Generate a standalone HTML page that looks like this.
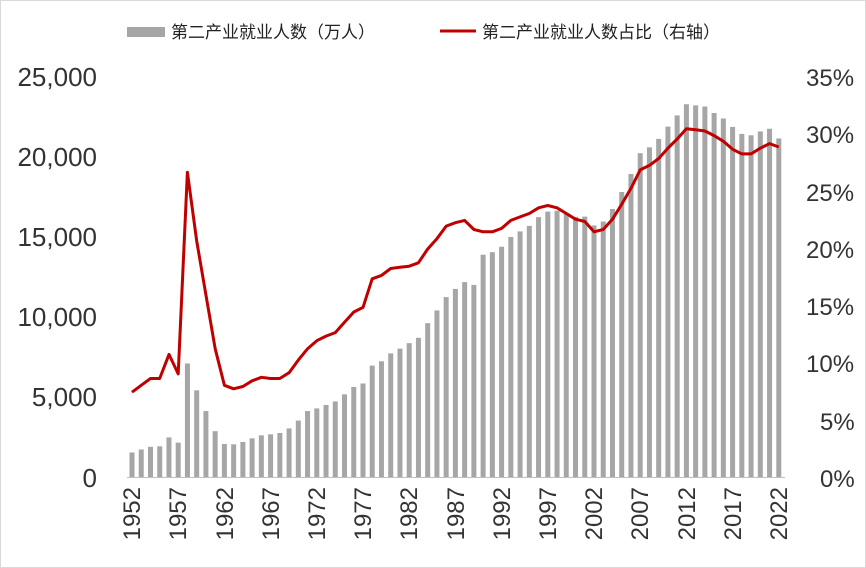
<!DOCTYPE html>
<html><head><meta charset="utf-8"><style>
html,body{margin:0;padding:0;background:#fff}
svg{display:block;font-family:"Liberation Sans","Noto Sans CJK SC",sans-serif}
</style></head><body>
<svg id="c" width="866" height="568" viewBox="0 0 866 568">
<rect x="0.5" y="0.5" width="865" height="567" fill="#fff" stroke="#d9d9d9"/>
<g id="bars" fill="#a6a6a6"></g>
<line x1="127" y1="477.5" x2="785" y2="477.5" stroke="#bfbfbf" stroke-width="1"/>
<polyline id="ln" fill="none" stroke="#c00000" stroke-width="3" stroke-linejoin="round"/>
<rect x="127" y="27" width="38" height="10" fill="#a6a6a6"/>
<text x="171" y="38" font-size="17" fill="#222">第二产业就业人数（万人）</text>
<line x1="440" y1="31" x2="476" y2="31" stroke="#c00000" stroke-width="3"/>
<text x="482" y="38" font-size="17" fill="#222">第二产业就业人数占比（右轴）</text>
<g font-size="26" fill="#333" text-anchor="end">
<text x="97" y="86">25,000</text>
<text x="97" y="166">20,000</text>
<text x="97" y="246">15,000</text>
<text x="97" y="326">10,000</text>
<text x="97" y="406">5,000</text>
<text x="97" y="487">0</text>
</g>
<g font-size="24" fill="#333">
<text x="806" y="86">35%</text>
<text x="806" y="143">30%</text>
<text x="806" y="201">25%</text>
<text x="806" y="258">20%</text>
<text x="806" y="315">15%</text>
<text x="806" y="372">10%</text>
<text x="820" y="430">5%</text>
<text x="820" y="487">0%</text>
</g>
<g font-size="24" fill="#333" text-anchor="end">
<text transform="translate(140,487) rotate(-90)">1952</text>
<text transform="translate(186,487) rotate(-90)">1957</text>
<text transform="translate(233,487) rotate(-90)">1962</text>
<text transform="translate(279,487) rotate(-90)">1967</text>
<text transform="translate(325,487) rotate(-90)">1972</text>
<text transform="translate(371,487) rotate(-90)">1977</text>
<text transform="translate(417,487) rotate(-90)">1982</text>
<text transform="translate(464,487) rotate(-90)">1987</text>
<text transform="translate(510,487) rotate(-90)">1992</text>
<text transform="translate(556,487) rotate(-90)">1997</text>
<text transform="translate(602,487) rotate(-90)">2002</text>
<text transform="translate(648,487) rotate(-90)">2007</text>
<text transform="translate(695,487) rotate(-90)">2012</text>
<text transform="translate(741,487) rotate(-90)">2017</text>
<text transform="translate(787,487) rotate(-90)">2022</text>
</g>
</svg>
<script>
var b=[1531,1715,1882,1913,2468,2142,7076,5402,4112,2856,2059,2038,2183,2408,2600,2661,2743,3030,3518,4112,4276,4492,4712,5152,5611,5831,6945,7214,7707,8003,8346,8679,9590,10384,11216,11726,12152,11976,13856,14015,14355,14965,15312,15655,16203,16547,16600,16421,16219,16234,15682,15927,16709,17766,18894,20186,20553,21080,21842,22544,23241,23170,23099,22693,22350,21824,21390,21305,21543,21712,21105];
var p=[7.4,8.0,8.6,8.6,10.7,9.0,26.6,20.6,15.9,11.2,8.0,7.7,7.9,8.4,8.7,8.6,8.6,9.1,10.2,11.2,11.9,12.3,12.6,13.5,14.4,14.8,17.3,17.6,18.2,18.3,18.4,18.7,19.9,20.8,21.9,22.2,22.4,21.6,21.4,21.4,21.7,22.4,22.7,23.0,23.5,23.7,23.5,23.0,22.5,22.3,21.4,21.6,22.5,23.8,25.2,26.8,27.2,27.8,28.7,29.5,30.4,30.3,30.2,29.8,29.3,28.6,28.2,28.2,28.7,29.1,28.8];
var ns="http://www.w3.org/2000/svg",g=document.getElementById('bars'),pts=[];
for(var i=0;i<b.length;i++){var x=132+i*9.24,h=b[i]/25000*401;
var r=document.createElementNS(ns,'rect');r.setAttribute('x',x-2.5);r.setAttribute('y',477-h);r.setAttribute('width',5);r.setAttribute('height',h);g.appendChild(r);
pts.push(x.toFixed(1)+','+(477-p[i]/35*401).toFixed(1));}
document.getElementById('ln').setAttribute('points',pts.join(' '));
</script>
</body></html>
